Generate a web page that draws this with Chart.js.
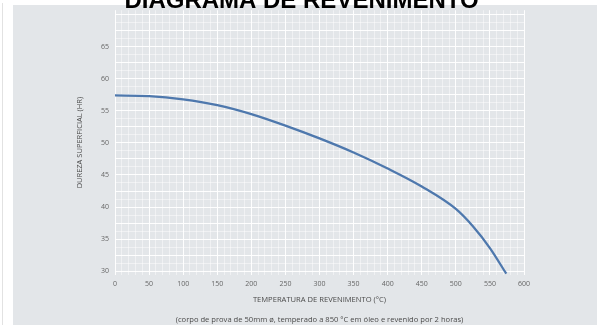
<!DOCTYPE html>
<html>
<head>
<meta charset="utf-8">
<script src="https://cdn.jsdelivr.net/npm/chart.js@4"></script>
<style>
  html, body { margin: 0; padding: 0; background: #ffffff; }
  #wrap { position: relative; width: 603px; height: 325px; overflow: hidden; }
  #panel { position: absolute; left: 13px; top: 5px; width: 584px; height: 320px; background: #e3e6e9; }
  #edge { position: absolute; left: 2px; top: 3px; width: 1px; height: 322px; background: #e2e2e2; }
  canvas { position: absolute; left: 0; top: 0; }
</style>
</head>
<body>
<div id="wrap">
  <div id="edge"></div>
  <div id="panel"></div>
  <canvas id="c" width="603" height="325"></canvas>
</div>
<script>
// ---- data ----
const temperatures = [0, 50, 100, 150, 200, 250, 300, 350, 400, 450, 500, 525, 550, 574];
const hardness     = [57.4, 57.3, 56.8, 55.9, 54.5, 52.7, 50.7, 48.5, 46.0, 43.2, 39.7, 37.0, 33.6, 29.6];
const xTickLabels  = [0, 50, 100, 150, 200, 250, 300, 350, 400, 450, 500, 550, 600];
const yTickLabels  = [30, 35, 40, 45, 50, 55, 60, 65];
const chartTitle   = 'DIAGRAMA DE REVENIMENTO';
const xTitle       = 'TEMPERATURA DE REVENIMENTO (°C)';
const yTitle       = 'DUREZA SUPERFICIAL (HR)';
const noteText     = '(corpo de prova de 50mm ø, temperado a 850 °C em óleo e revenido por 2 horas)';

const points = temperatures.map((t, i) => ({ x: t, y: hardness[i] }));
const tickFont = { family: 'Open Sans', size: 7 };

new Chart(document.getElementById('c'), {
  type: 'scatter',
  data: {
    datasets: [{
      data: points,
      showLine: true,
      borderColor: '#4e78ad',
      borderWidth: 2.3,
      pointRadius: 0,
      cubicInterpolationMode: 'monotone',
      fill: false
    }]
  },
  options: {
    responsive: false,
    animation: false,
    events: [],
    layout: { padding: 0 },
    plugins: {
      legend: { display: false },
      tooltip: { enabled: false },
      title: {
        display: true,
        text: chartTitle,
        color: '#000000',
        font: { family: 'Liberation Sans', size: 24, weight: 'bold', lineHeight: 1.2 },
        padding: { top: -15.4, bottom: -5.4 }
      }
    },
    scales: {
      x: {
        type: 'linear',
        min: 0,
        max: 600,
        afterBuildTicks: (scale) => {
          const t = [];
          for (let v = 0; v <= 600; v += 10) t.push({ value: v });
          scale.ticks = t;
        },
        afterFit: (scale) => { scale.height = 50; },
        border: { display: false },
        grid: {
          drawTicks: false,
          color: (ctx) => (ctx.tick && xTickLabels.includes(ctx.tick.value)) ? 'rgba(255,255,255,0.95)' : 'rgba(255,255,255,0.45)',
          lineWidth: 1
        },
        ticks: {
          autoSkip: false,
          maxRotation: 0,
          padding: 5,
          color: '#666666',
          font: tickFont,
          callback: (v) => xTickLabels.includes(v) ? String(v) : ''
        },
        title: {
          display: true,
          text: [xTitle, noteText],
          color: '#4a4a4a',
          font: { family: 'Open Sans', size: 7.6, lineHeight: 20 / 7.6 },
          padding: { top: 0, bottom: -5 }
        }
      },
      y: {
        type: 'linear',
        min: 29.4,
        max: 70.7,
        afterBuildTicks: (scale) => {
          const t = [];
          for (let v = 30; v <= 70; v += 1.25) t.push({ value: v });
          scale.ticks = t;
        },
        afterFit: (scale) => { scale.width = 115; },
        border: { display: false },
        grid: {
          drawTicks: false,
          color: (ctx) => (ctx.tick && Math.abs(ctx.tick.value / 2.5 - Math.round(ctx.tick.value / 2.5)) < 1e-6) ? 'rgba(255,255,255,0.95)' : 'rgba(255,255,255,0.45)',
          lineWidth: 1
        },
        ticks: {
          autoSkip: false,
          padding: 6,
          color: '#666666',
          font: tickFont,
          callback: (v) => yTickLabels.includes(v) ? String(v) : ''
        },
        title: {
          display: true,
          text: yTitle,
          color: '#4a4a4a',
          font: { family: 'Open Sans', size: 7.5, lineHeight: 9 / 7.5 },
          padding: { top: 75.5, bottom: 0 }
        }
      },
      yPad: {
        type: 'linear',
        position: 'right',
        display: true,
        min: 0,
        max: 1,
        afterFit: (scale) => { scale.width = 79; },
        border: { display: false },
        grid: { display: false, drawOnChartArea: false },
        ticks: { display: false }
      }
    }
  }
});
</script>
</body>
</html>
